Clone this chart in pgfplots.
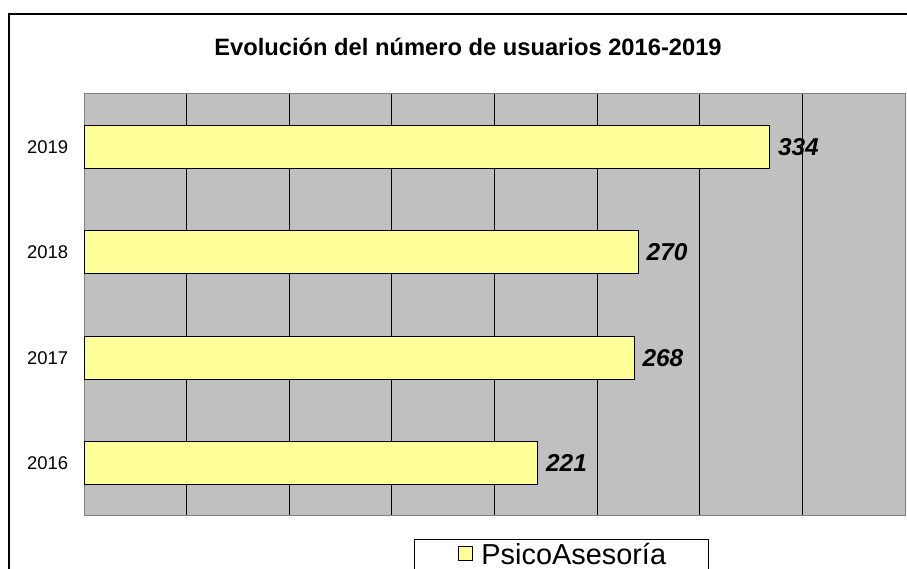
\documentclass[border=0pt]{standalone}
\usepackage{pgfplots}
\pgfplotsset{compat=1.18}
\usepackage{fontspec}
\setmainfont{Liberation Sans}
\definecolor{plotgray}{HTML}{C0C0C0}
\definecolor{barfill}{HTML}{FFFF99}
\definecolor{bordergray}{HTML}{808080}
\begin{document}
\begin{tikzpicture}[x=1bp,y=1bp]
\useasboundingbox (0,0) rectangle (907,569);
\draw[black, line width=1.2bp] (9,-20) rectangle (930,555);
\node[font=\fontsize{23.8}{28}\selectfont\bfseries] at (468,522) {Evolución del número de usuarios 2016-2019};
\begin{axis}[
  at={(84bp,53bp)}, anchor=south west,
  scale only axis, width=821bp, height=422bp,
  xbar, bar width=0.41,
  xmin=0, xmax=400, ymin=-0.5, ymax=3.5,
  axis background/.style={fill=plotgray},
  axis line style={bordergray, line width=1bp},
  xtick={0,50,...,400}, xticklabels={}, xmajorgrids,
  major x tick style={draw=none},
  grid style={black, line width=0.8bp},
  ytick={0,1,2,3}, yticklabels={2016,2017,2018,2019},
  major y tick style={draw=none},
  extra y ticks={-0.5,0.5,1.5,2.5,3.5}, extra y tick labels={},
  extra y tick style={tick style={black, line width=0.8bp}, major tick length=6bp, tick align=outside, ymajorgrids=false},
  yticklabel style={font=\fontsize{18.5}{22}\selectfont, xshift=-8bp},
  /pgf/number format/assume math mode=true,
  nodes near coords,
  nodes near coords style={font=\fontsize{24.5}{28}\selectfont\bfseries\itshape, anchor=west, inner sep=0pt, xshift=8bp},
  legend style={at={(0.402,-0.0545)}, anchor=north west, draw=black, line width=0.8bp, fill=white,
    font=\fontsize{29}{34}\selectfont, inner xsep=0bp, inner ysep=2bp, legend cell align=left},
  legend image code/.code={\path (-43bp,0) (21bp,0); \draw[fill=barfill, draw=black, line width=0.8bp] (0bp,-6bp) rectangle (14bp,8bp);},
]
\addplot[fill=barfill, draw=black, line width=1bp] coordinates {(221,0) (268,1) (270,2) (334,3)};
\addlegendentry{\hbox{PsicoAsesoría\kern40bp}}
\end{axis}
\end{tikzpicture}
\end{document}
